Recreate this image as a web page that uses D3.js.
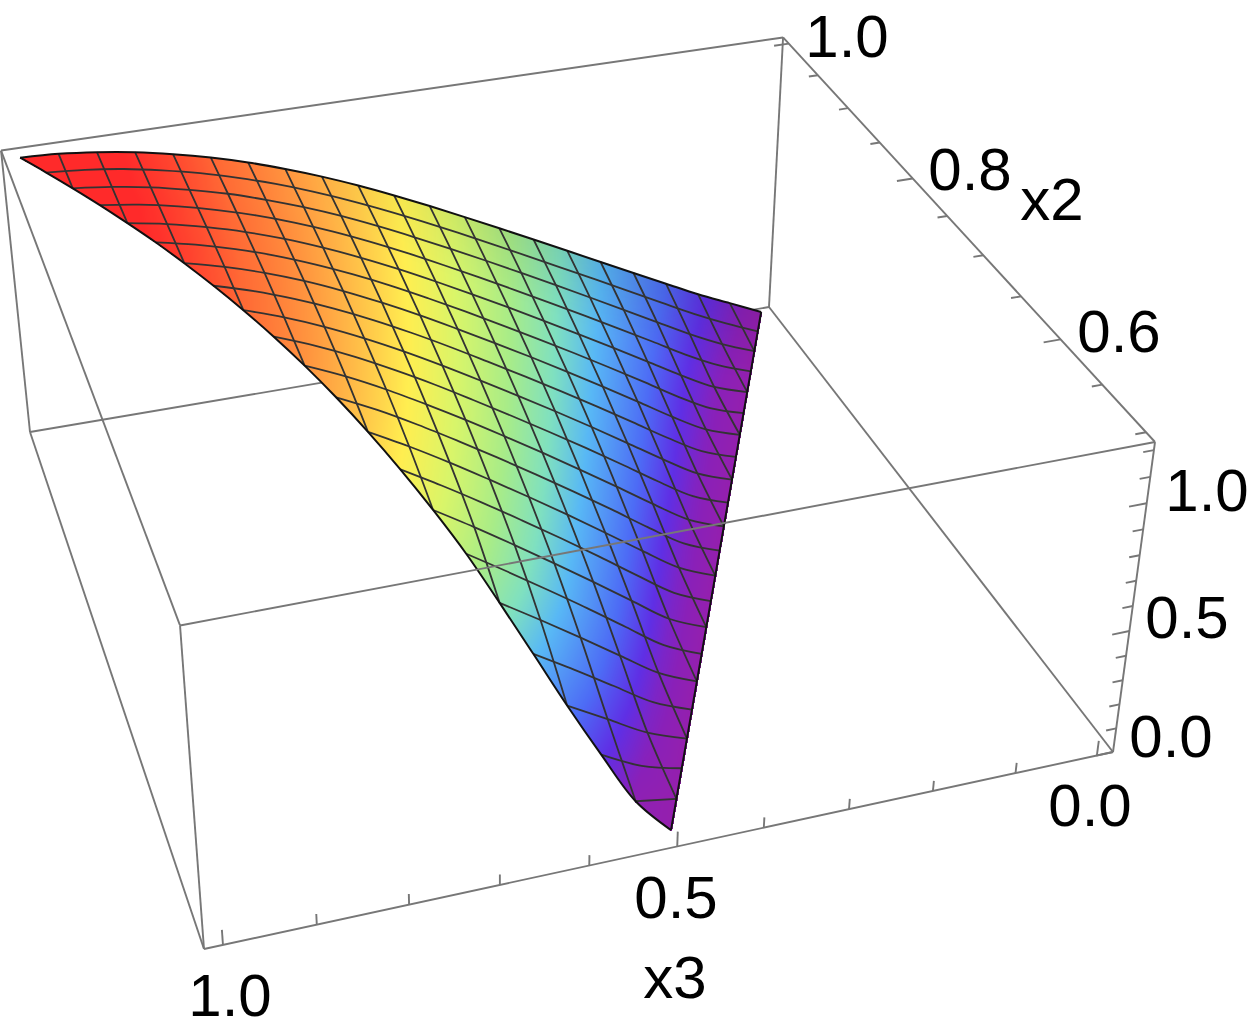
<!DOCTYPE html>
<html>
<head>
<meta charset="utf-8">
<script src="https://cdn.jsdelivr.net/npm/d3@7"></script>
<style>
  html, body { margin: 0; background: #fff; }
  text { font-family: "Liberation Sans", Arial, sans-serif; font-size: 60px; fill: #000; }
</style>
</head>
<body>
<div id="chart"></div>
<script>
var x3Ticks = [0,0.1,0.2,0.3,0.4,0.5,0.6,0.7,0.8,0.9,1];
var x2Ticks = [0.5,0.55,0.6,0.65,0.7,0.75,0.8,0.85,0.9,0.95,1];
var zTicks = [0,0.1,0.2,0.3,0.4,0.5,0.6,0.7,0.8,0.9,1,1.1,1.2];

// surface height. row j is x2 = 1 - j/42,
// values go along x3 from j/42 to 1 - j/42 in steps of 2/42
var zRows = [
  [0.020,0.088,0.156,0.231,0.306,0.382,0.458,0.534,0.609,0.683,0.756,0.826,0.893,0.955,1.011,1.062,1.106,1.143,1.174,1.197,1.213,1.220],
  [0.020,0.084,0.155,0.233,0.312,0.391,0.469,0.547,0.624,0.700,0.774,0.845,0.912,0.974,1.030,1.079,1.122,1.157,1.186,1.206,1.218],
  [0.020,0.080,0.153,0.235,0.317,0.399,0.480,0.560,0.639,0.716,0.791,0.863,0.931,0.992,1.047,1.096,1.136,1.170,1.195,1.213],
  [0.020,0.076,0.152,0.239,0.324,0.409,0.492,0.574,0.655,0.734,0.811,0.884,0.952,1.013,1.067,1.113,1.152,1.183,1.205],
  [0.020,0.071,0.152,0.242,0.331,0.418,0.504,0.589,0.671,0.752,0.830,0.903,0.970,1.031,1.084,1.128,1.165,1.193],
  [0.020,0.071,0.154,0.248,0.340,0.430,0.518,0.604,0.689,0.771,0.850,0.923,0.990,1.050,1.101,1.144,1.178],
  [0.020,0.073,0.159,0.255,0.349,0.441,0.532,0.620,0.706,0.790,0.869,0.943,1.010,1.068,1.117,1.157],
  [0.020,0.075,0.164,0.262,0.359,0.453,0.545,0.635,0.724,0.809,0.889,0.962,1.027,1.084,1.131],
  [0.020,0.077,0.170,0.270,0.369,0.465,0.559,0.651,0.741,0.827,0.907,0.980,1.044,1.099],
  [0.020,0.079,0.175,0.278,0.379,0.477,0.573,0.667,0.759,0.845,0.926,0.998,1.060],
  [0.020,0.081,0.180,0.285,0.388,0.489,0.587,0.683,0.775,0.863,0.943,1.013],
  [0.020,0.083,0.185,0.293,0.398,0.500,0.600,0.697,0.791,0.879,0.957],
  [0.020,0.086,0.190,0.299,0.406,0.510,0.611,0.710,0.804,0.891],
  [0.020,0.088,0.195,0.306,0.414,0.519,0.622,0.721,0.815],
  [0.020,0.089,0.199,0.310,0.419,0.525,0.629,0.728],
  [0.020,0.091,0.201,0.313,0.421,0.527,0.630],
  [0.020,0.090,0.197,0.305,0.410,0.512],
  [0.020,0.086,0.188,0.290,0.388],
  [0.020,0.080,0.171,0.262],
  [0.020,0.066,0.148],
  [0.020,0.046],
  [0.020]
];

var colorStops = [0,0.05,0.115,0.19,0.31,0.39,0.48,0.58,0.67,0.78,0.9,0.97];
var colorValues = ["#9a1fa8","#8a20b8","#5f2fe5","#4d6bf5","#58b8f5","#7fe0c0","#a8ec88","#d8f56a","#ffee50","#ffb045","#ff6a35","#ff2a2a"];

var width = 1250, height = 1031;
var svg = d3.select("#chart").append("svg").attr("width", width).attr("height", height);

var x3Scale = d3.scaleLinear().domain([-0.02,1.02]).range([0,1]);
var x2Scale = d3.scaleLinear().domain([0.49,1.01]).range([0,1]);
var zScale = d3.scaleLinear().domain([0,1.23]).range([0,1]);
var colorScale = d3.scaleLinear().domain(colorStops).range(colorValues).clamp(true);

// box corners as seen on the page, used to set up the perspective
var O=[1113,752,1], Ax=[204,949,1], Bx=[769,307,1], Cx=[1155,442,1], AB=[30,432,1], AC=[180,625,1];
function solve3(c0,c1,c2,r){
  var m=[[c0[0],c1[0],c2[0],r[0]],[c0[1],c1[1],c2[1],r[1]],[c0[2],c1[2],c2[2],r[2]]];
  for(var i=0;i<3;i++){
    var p=i; for(var k=i+1;k<3;k++) if(Math.abs(m[k][i])>Math.abs(m[p][i])) p=k;
    var t=m[i];m[i]=m[p];m[p]=t;
    for(var k=0;k<3;k++) if(k!=i){var f=m[k][i]/m[i][i]; for(var q=i;q<4;q++) m[k][q]-=f*m[i][q];}
  }
  return [m[0][3]/m[0][0],m[1][3]/m[1][1],m[2][3]/m[2][2]];
}
var sAB=solve3(Ax,Bx,AB.map(function(v){return -v;}),O);
var sAC=solve3(Ax,Cx,AC.map(function(v){return -v;}),O);
var wa=sAB[0], wb=sAB[1], wc=sAC[1];
var colA=Ax.map(function(v,i){return wa*v-O[i];}), colB=Bx.map(function(v,i){return wb*v-O[i];}), colC=Cx.map(function(v,i){return wc*v-O[i];});
function cube(a,b,c){
  var p=[0,1,2].map(function(i){return O[i]+a*colA[i]+b*colB[i]+c*colC[i];});
  return [p[0]/p[2],p[1]/p[2]];
}
function project(x3,x2,z){ return cube(x3Scale(x3),x2Scale(x2),zScale(z)); }

function node(k,j){return {x3:k/42,x2:1-j/42,z:zRows[j][(k-j)/2],j:j};}
function nodeP(t){return project(t.x3,t.x2,t.z);}

var boxLine=svg.append("g").attr("stroke","#777").attr("stroke-width",1.9).attr("fill","none");
function edge(g,a,b){g.append("line").attr("x1",a[0]).attr("y1",a[1]).attr("x2",b[0]).attr("y2",b[1]);}
edge(boxLine,cube(0,1,1),cube(1,1,1));
edge(boxLine,cube(0,1,0),cube(1,1,0));
edge(boxLine,cube(1,1,0),cube(1,1,1));
edge(boxLine,cube(0,1,0),cube(0,1,1));
edge(boxLine,cube(0,0,0),cube(0,1,0));
edge(boxLine,cube(1,0,0),cube(1,1,0));

// surface is painted pixel by pixel into a canvas, then placed in the svg as an image
var canvas=document.createElement("canvas");
canvas.width=width; canvas.height=height;
var ctx=canvas.getContext("2d");
var img=ctx.createImageData(width,height);
var lut=d3.range(1025).map(function(v){return d3.rgb(colorScale(v/1024));});
function paintTri(a,b,c){
  var pa=nodeP(a),pb=nodeP(b),pc=nodeP(c);
  var det=(pb[1]-pc[1])*(pa[0]-pc[0])+(pc[0]-pb[0])*(pa[1]-pc[1]);
  if(Math.abs(det)<1e-6) return;
  var x0=Math.floor(Math.min(pa[0],pb[0],pc[0])),x1=Math.ceil(Math.max(pa[0],pb[0],pc[0]));
  var y0=Math.floor(Math.min(pa[1],pb[1],pc[1])),y1=Math.ceil(Math.max(pa[1],pb[1],pc[1]));
  for(var y=y0;y<=y1;y++)for(var x=x0;x<=x1;x++){
    var u=((pb[1]-pc[1])*(x-pc[0])+(pc[0]-pb[0])*(y-pc[1]))/det;
    var v=((pc[1]-pa[1])*(x-pc[0])+(pa[0]-pc[0])*(y-pc[1]))/det;
    var w=1-u-v;
    if(u<-0.02||v<-0.02||w<-0.02) continue;
    var val=(a.z*u+b.z*v+c.z*w)/1.22;
    var row=a.j*u+b.j*v+c.j*w;
    var col=lut[Math.max(0,Math.min(1024,Math.round(val*1024)))];
    // the light falls a little duller along the back rim
    var shade=1-0.07*Math.max(0,1-row/3.5)*Math.max(0,Math.min(1,(0.8-val)/0.3));
    var id=(y*width+x)*4;
    img.data[id]=col.r*shade;img.data[id+1]=col.g*shade;img.data[id+2]=col.b*shade;img.data[id+3]=255;
  }
}
for(var j=0;j<21;j++){
  for(var k=j;k<=42-j;k+=2){
    if(k+2<=42-j) paintTri(node(k,j),node(k+2,j),node(k+1,j+1));
    if(k+3<=42-j) paintTri(node(k+2,j),node(k+1,j+1),node(k+3,j+1));
  }
}
ctx.putImageData(img,0,0);
svg.append("image").attr("href",canvas.toDataURL()).attr("width",width).attr("height",height);

var meshLine=d3.line().curve(d3.curveCatmullRom.alpha(0.5));
var mesh=svg.append("g").attr("fill","none").attr("stroke","#333").attr("stroke-width",1.8);
d3.range(1,21).forEach(function(j){
  mesh.append("path").attr("d",meshLine(d3.range(j,42-j+1,2).map(function(k){return nodeP(node(k,j));})));
});
d3.range(2,42,2).forEach(function(k){
  var jMax=Math.min(k,42-k);
  mesh.append("path").attr("d",meshLine(d3.range(0,jMax+1,2).map(function(j){return nodeP(node(k,j));})));
});
var rim=svg.append("g").attr("fill","none").attr("stroke","#111").attr("stroke-width",2);
rim.append("path").attr("d",meshLine(d3.range(0,43,2).map(function(k){return nodeP(node(k,0));})));
rim.append("path").attr("d",meshLine(d3.range(0,22).map(function(j){return nodeP(node(42-j,j));})));
rim.append("path").attr("d",meshLine(d3.range(0,22).map(function(j){return nodeP(node(j,j));})));

var front=svg.append("g").attr("stroke","#777").attr("stroke-width",1.9).attr("fill","none");
edge(front,cube(0,0,0),cube(1,0,0));
edge(front,cube(1,0,0),cube(1,0,1));
edge(front,cube(0,0,0),cube(0,0,1));
edge(front,cube(1,0,1),cube(0,0,1));
edge(front,cube(0,0,1),cube(0,1,1));
edge(front,cube(1,0,1),cube(1,1,1));

x3Ticks.forEach(function(v,i){var major=i%5==0;var a=x3Scale(v);edge(front,cube(a,0,0),cube(a,0,major?0.05:0.035));});
x2Ticks.forEach(function(v,i){var major=v==1||v==0.8||v==0.6;var b=x2Scale(v);edge(front,cube(0,b,1),cube(major?0.02:0.012,b,1));});
zTicks.forEach(function(v,i){var major=i%5==0;var c=zScale(v);edge(front,cube(0,0,c),cube(major?0.02:0.012,0,c));});

var labels=[["1.0",847,36],["0.8",970,169],["0.6",1119,331],["x2",1052,199],["1.0",1207,490],["0.5",1187,617],["0.0",1171,736],["0.0",1090,805],["0.5",676,897],["1.0",230,995],["x3",675,977]];
svg.selectAll("text").data(labels).enter().append("text").attr("x",function(d){return d[1];}).attr("y",function(d){return d[2];}).attr("text-anchor","middle").attr("dominant-baseline","central").text(function(d){return d[0];});
</script>
</body>
</html>
